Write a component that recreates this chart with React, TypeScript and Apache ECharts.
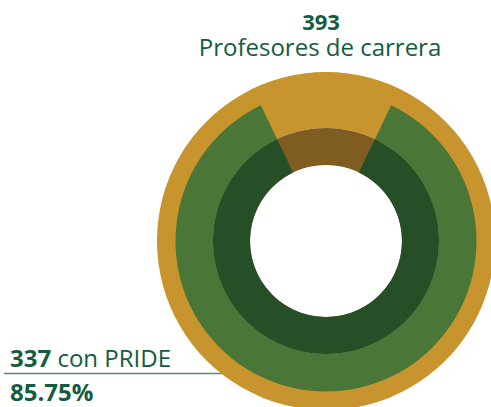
import React, { useEffect, useRef } from "react";
import * as echarts from "echarts";

const total = 393;
const withPride = 337;
const totalLabel = "Profesores de carrera";
const prideLabel = "con PRIDE";
const percentLabel = "85.75%";

const GOLD = "#c8942d";
const GREEN = "#4a7638";
const DARK = "#264e27";
const BROWN = "#7f5c22";
const TEXT = "#145c3f";

export default function App() {
  const ref = useRef<HTMLDivElement>(null);
  useEffect(() => {
    if (!ref.current) return;
    const chart = echarts.init(ref.current, null, { renderer: "svg" });
    const rest = total - withPride;
    const start = 90 - (rest / total) * 180;
    const center = [326, 241];
    chart.setOption({
      animation: false,
      series: [
        {
          type: "pie",
          center,
          radius: [113, 169],
          silent: true,
          label: { show: false },
          labelLine: { show: false },
          data: [{ value: total, itemStyle: { color: GOLD } }],
        },
        {
          type: "pie",
          center,
          radius: [76, 113],
          silent: true,
          label: { show: false },
          labelLine: { show: false },
          data: [{ value: total, itemStyle: { color: BROWN } }],
        },
        {
          type: "pie",
          center,
          radius: [113, 150.5],
          startAngle: start,
          silent: true,
          label: { show: false },
          labelLine: { show: false },
          data: [
            { value: withPride, itemStyle: { color: GREEN } },
            { value: rest, itemStyle: { color: "rgba(0,0,0,0)" } },
          ],
        },
        {
          type: "pie",
          center,
          radius: [76, 113],
          startAngle: start,
          silent: true,
          label: { show: false },
          labelLine: { show: false },
          data: [
            { value: withPride, itemStyle: { color: DARK } },
            { value: rest, itemStyle: { color: "rgba(0,0,0,0)" } },
          ],
        },
      ],
      graphic: [
        {
          type: "text",
          x: 321,
          y: 21,
          style: {
            text: String(total),
            fontSize: 22,
            fontWeight: "bold",
            fontFamily: "Open Sans",
            lineHeight: 22,
            fill: TEXT,
            align: "center",
            verticalAlign: "middle",
          },
        },
        {
          type: "text",
          x: 320,
          y: 46,
          style: {
            text: totalLabel,
            fontSize: 24,
            fontFamily: "Open Sans",
            lineHeight: 24,
            fill: TEXT,
            align: "center",
            verticalAlign: "middle",
          },
        },
        {
          type: "text",
          x: 10,
          y: 357,
          style: {
            text: "{b|" + withPride + "}{r| " + prideLabel + "}",
            fill: TEXT,
            align: "left",
            verticalAlign: "middle",
            rich: {
              b: { fontSize: 24, fontWeight: "bold", fontFamily: "Open Sans", fill: TEXT },
              r: { fontSize: 24, fontWeight: "normal", fontFamily: "Open Sans", fill: TEXT },
            },
          },
        },
        {
          type: "line",
          shape: { x1: 4, y1: 373.5, x2: 222, y2: 373.5 },
          style: { stroke: "#4f8a70", lineWidth: 1.5 },
        },
        {
          type: "text",
          x: 10,
          y: 391,
          style: {
            text: percentLabel,
            fontSize: 24,
            fontWeight: "bold",
            fontFamily: "Open Sans",
            fill: TEXT,
            align: "left",
            verticalAlign: "middle",
          },
        },
      ],
    });
    return () => chart.dispose();
  }, []);
  return (
    <div
      ref={ref}
      style={{ position: "absolute", left: 0, top: 0, width: 491, height: 407 }}
    />
  );
}
